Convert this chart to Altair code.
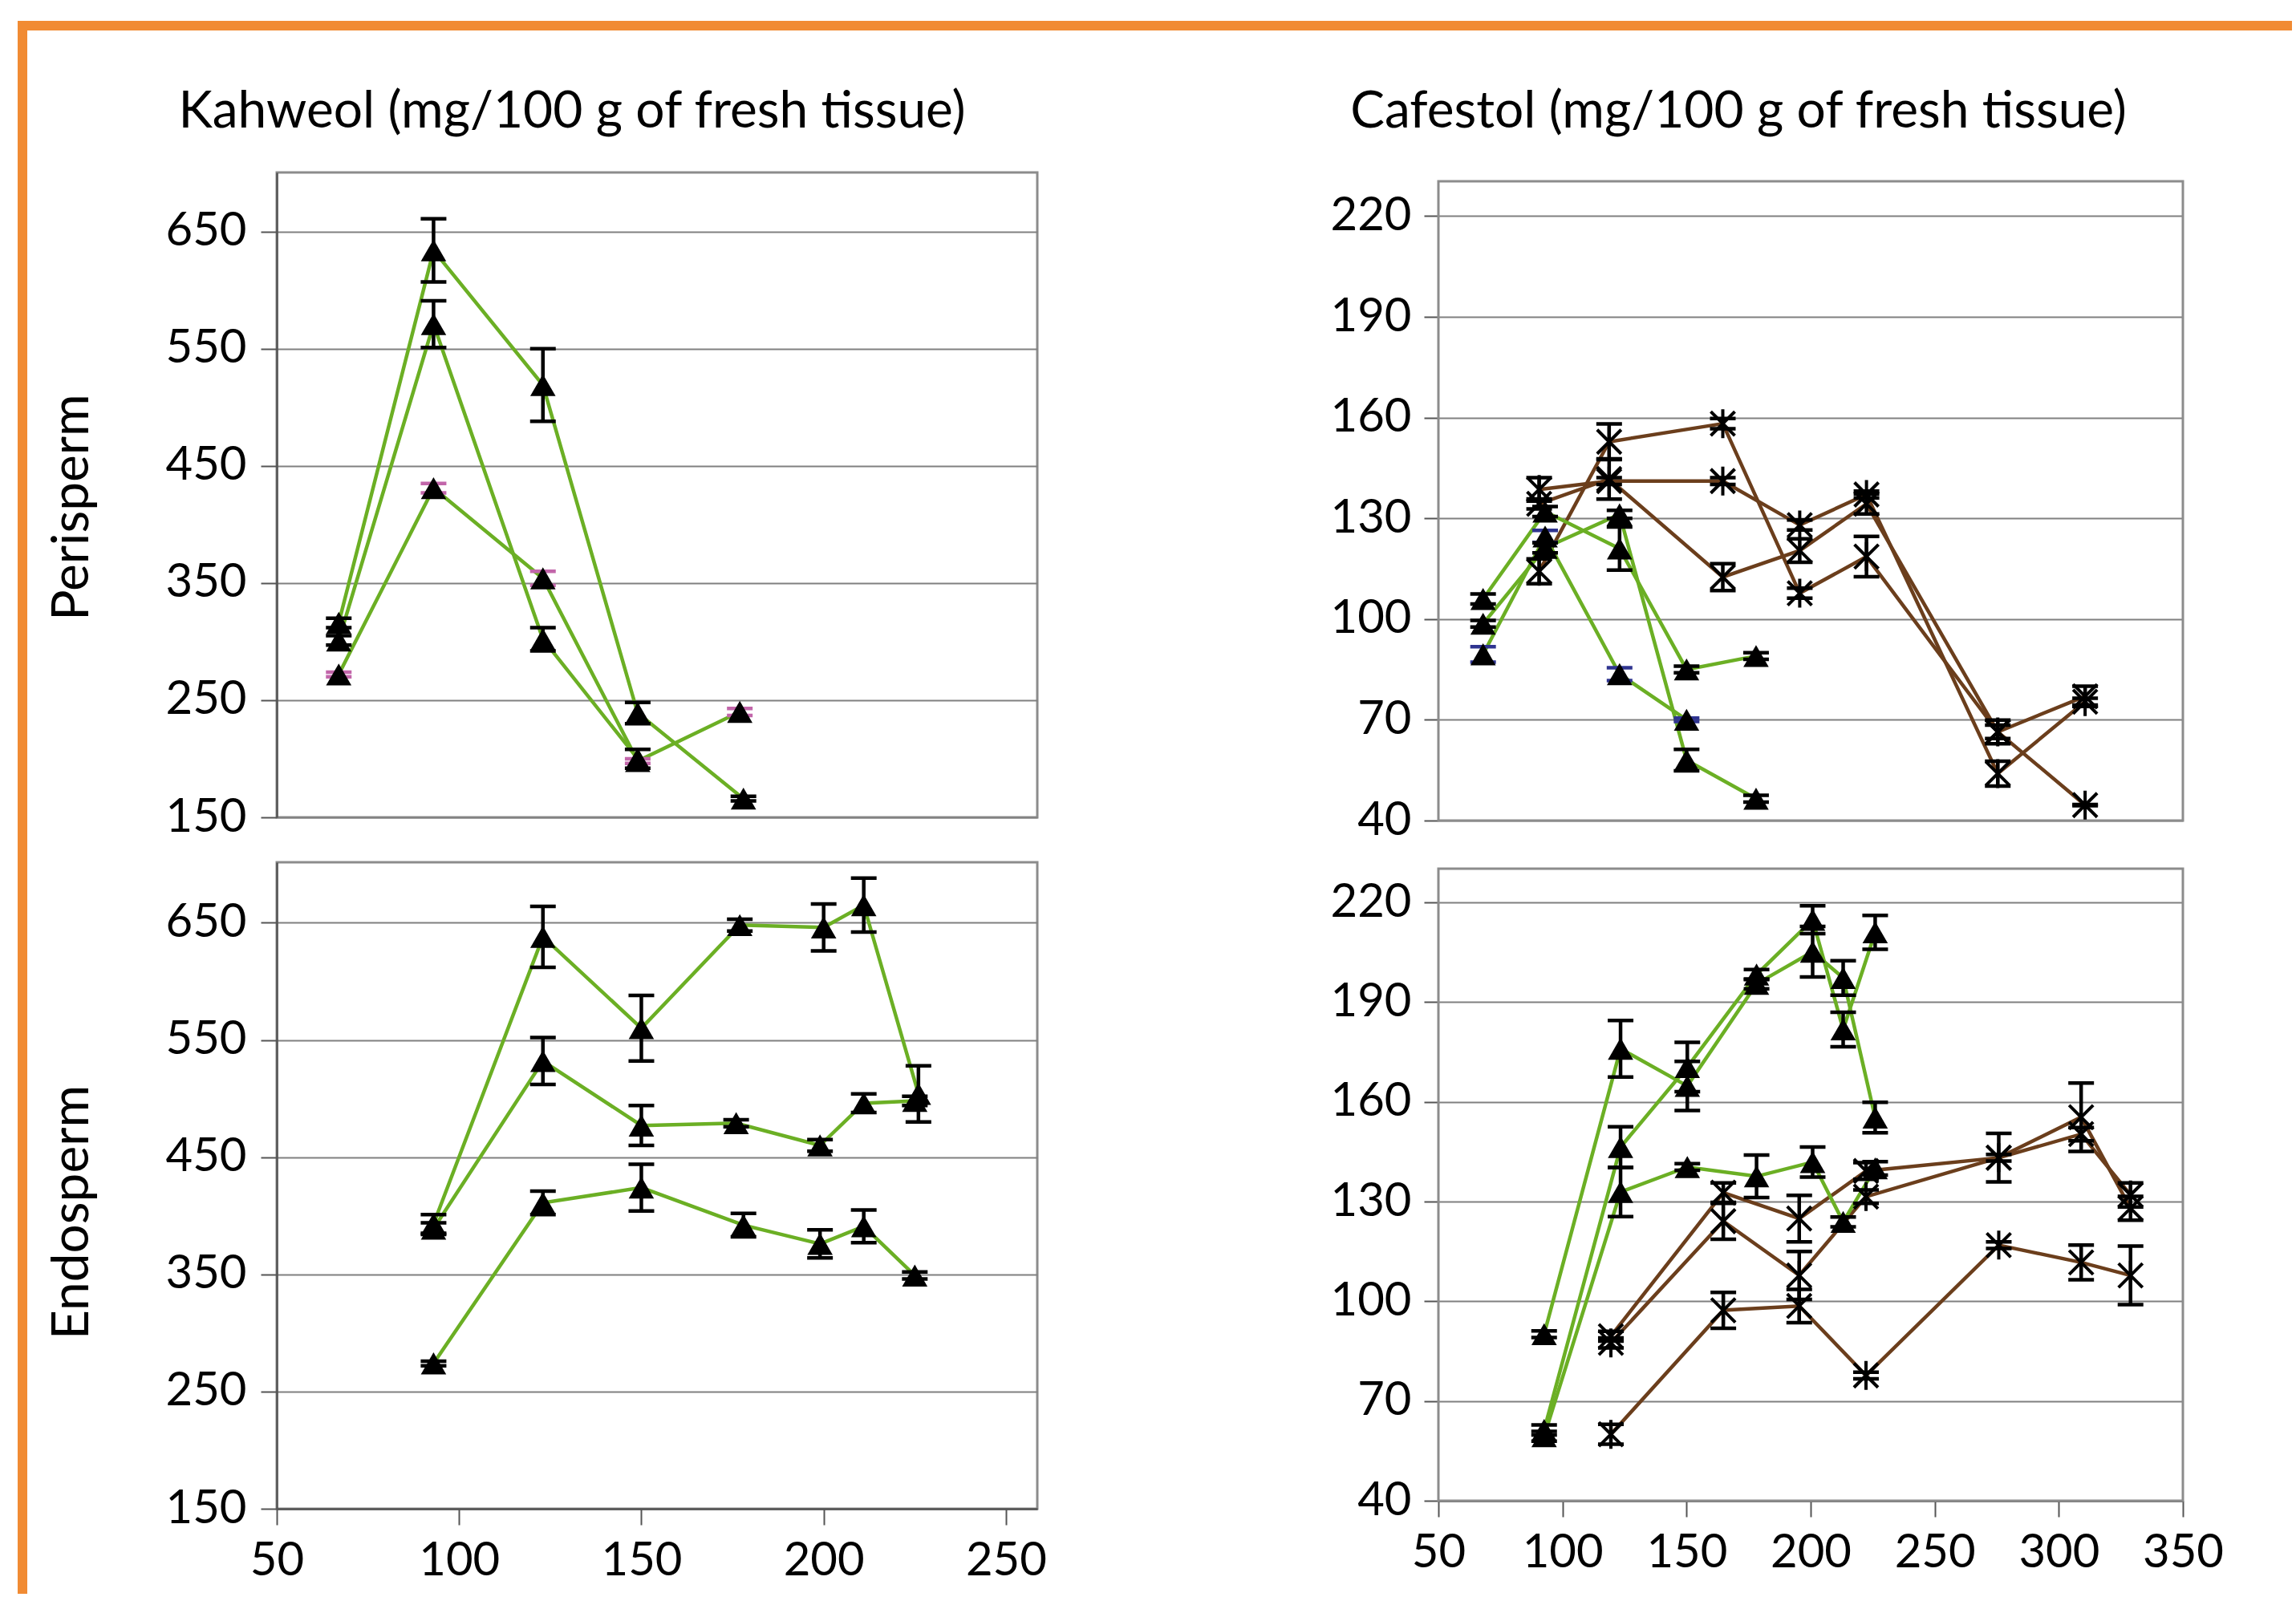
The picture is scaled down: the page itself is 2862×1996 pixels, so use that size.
import altair as alt
import pandas as pd

GREEN = "#6BAF24"
BROWN = "#6B3E1C"
PINK = "#C266AA"
NAVY = "#2F3490"
BLACK = "#000000"
ORANGE = "#F18B33"
FRAME = "#8c8c8c"

# ---------------- Kahweol, perisperm ----------------
KP_A_X = [67, 93, 123, 149, 178]
KP_A_Y = [316, 634, 519, 239, 166]
KP_A_E = [4, 27, 31, 9, 2]
KP_B_X = [67, 93, 123, 149]
KP_B_Y = [301, 571, 302, 200]
KP_B_E = [4, 20, 10, 8]
KP_C_X = [67, 93, 123, 149, 177]
KP_C_Y = [272, 431, 354, 198, 240]
KP_C_E = [2, 4, 6, 2, 3]

# ---------------- Kahweol, endosperm ----------------
KE_D_X = [93, 123, 150, 177, 200, 211, 226]
KE_D_Y = [393, 638, 560, 648, 646, 665, 504]
KE_D_E = [8, 26, 28, 5, 20, 23, 24]
KE_E_X = [93, 123, 150, 176, 199, 211, 225]
KE_E_Y = [389, 532, 477, 479, 460, 496, 498]
KE_E_E = [5, 20, 17, 3, 5, 8, 4]
KE_F_X = [93, 123, 150, 178, 199, 211, 225]
KE_F_Y = [274, 411, 424, 392, 376, 391, 349]
KE_F_E = [2, 10, 20, 10, 12, 14, 3]

# ---------------- Cafestol, perisperm ----------------
CP_G_X = [68, 93, 123, 150, 178]
CP_G_Y = [106, 132, 121, 85, 89]
CP_G_E = [1.5, 1.5, 6.4, 1, 1]
CP_H_X = [68, 93, 123, 150, 178]
CP_H_Y = [98.6, 121.2, 131.2, 58, 46.5]
CP_H_E = [1, 1.5, 1.2, 3.2, 1]
CP_I_X = [68, 93, 123, 150]
CP_I_Y = [89.5, 124.6, 83.6, 70]
CP_I_E = [2.3, 1.8, 1.9, 0.5]
CP_BR_X = [90.6, 118.8, 164.6, 195.6, 222.5, 275.4, 310.6]
CP_J_Y = [114.2, 152.8, 158.2, 107.7, 118.6, 66.4, 44.6]
CP_J_E = [3.7, 5.3, 1.5, 1.5, 6, 2, 0.2]
CP_K_Y = [138.6, 141.1, 141.1, 128, 137.1, 54.0, 75.4]
CP_K_E = [3.5, 1, 1, 1.5, 1, 3.7, 1]
CP_L_Y = [134.3, 141.7, 112.5, 120.4, 134.3, 66.4, 77]
CP_L_E = [1.5, 6, 4, 3.5, 3, 3.5, 3]

# ---------------- Cafestol, endosperm ----------------
CE_GR_X = [92.6, 123.4, 150.3, 178.2, 200.8, 213.1, 226.0]
CE_M_Y = [90.1, 176, 164.8, 195.5, 205.2, 197.3, 155.3]
CE_M_E = [1, 8.5, 7.4, 1.5, 7.6, 5.2, 4.6]
CE_N_Y = [61.3, 146.4, 170.5, 198.3, 214.8, 181.8, 211]
CE_N_E = [1.5, 6.1, 7.4, 1.5, 4.2, 5.2, 5.1]
CE_O_Y = [59.4, 132.9, 140.4, 137.6, 141.9, 123.9, 140]
CE_O_E = [1.5, 7.4, 1, 6.4, 4.5, 1.5, 2]
CE_BR_X = [119.5, 164.8, 195.4, 222.3, 275.8, 309, 328.9]
CE_P_Y = [89.5, 132.7, 124.9, 139.2, 143.2, 155.4, 128]
CE_P_E = [1.5, 2.9, 7, 2.5, 7.3, 10.3, 3.6]
CE_Q_Y = [87.5, 124.1, 107.8, 131.5, 143.2, 150.3, 132]
CE_Q_E = [1.5, 5.4, 7.2, 2, 1, 2, 3.6]
CE_R_Y = [60, 97.3, 98.6, 77.7, 116.9, 111.7, 107.8]
CE_R_E = [3, 5.4, 5, 1, 1, 5.2, 8.8]

# axis ticks
K_Y_TICKS = [150, 250, 350, 450, 550, 650]
C_Y_TICKS = [40, 70, 100, 130, 160, 190, 220]
K_X_TICKS = [50, 100, 150, 200, 250]
C_X_TICKS = [50, 100, 150, 200, 250, 300, 350]

XPATH = "M-1,-1L1,1M-1,1L1,-1"
STARPATH = "M-1,-1L1,1M-1,1L1,-1M0,-1.2L0,1.2"

LW = 4.5


def series(sid, xs, ys, es, lc, mk, ec=BLACK):
    return pd.DataFrame({
        "s": sid, "x": xs, "y": ys,
        "lo": [y - e for y, e in zip(ys, es)],
        "hi": [y + e for y, e in zip(ys, es)],
        "lc": lc, "ec": ec, "mk": mk,
    })


def panel(df, xdom, xticks, ydom, yticks, w, h, show_x, title=None, ytitle=None,
          ytitle_y=None, label_pad=18, tick_size=20, extra=None, pre=None,
          y_domain_line=True):
    yax_kw = dict(values=yticks, grid=True, gridColor="#808080", gridWidth=2,
                  tickColor="#555555", tickWidth=2, tickSize=tick_size,
                  domain=y_domain_line, domainColor="#555555", domainWidth=2.5,
                  labelFont="Lato", labelFontSize=58, labelColor="black",
                  labelPadding=label_pad, labelOverlap=False, labelFlush=False,
                  titleFont="Lato", titleFontSize=64, titleFontWeight="normal",
                  titleColor="black", titlePadding=84)
    yax_kw["title"] = ytitle if ytitle else None
    if ytitle_y is not None:
        yax_kw["titleY"] = ytitle_y
    yax = alt.Axis(**yax_kw)
    if show_x:
        xax = alt.Axis(values=xticks, format="d", grid=False, tickColor="#555555",
                       tickWidth=2, tickSize=20, domainColor="#555555", domainWidth=2.5,
                       labelFont="Lato", labelFontSize=58, labelColor="black",
                       labelPadding=16, labelOverlap=False, labelFlush=False, title=None)
    else:
        xax = None
    xs = alt.Scale(domain=xdom, nice=False, zero=False)
    ys = alt.Scale(domain=ydom, nice=False, zero=False)

    def X(f="x"):
        return alt.X(f + ":Q", scale=xs, axis=xax)

    def Y(f):
        return alt.Y(f + ":Q", scale=ys, axis=yax)

    base = alt.Chart(df)
    line = base.mark_line(strokeWidth=LW).encode(
        x=X(), y=Y("y"), detail="s:N", color=alt.Color("lc:N", scale=None))
    bar = base.mark_rule(strokeWidth=LW).encode(
        x=X(), y=Y("lo"), y2="hi:Q", color=alt.Color("ec:N", scale=None))
    cap_lo = base.mark_rule(strokeWidth=LW, xOffset=-16, x2Offset=16).encode(
        x=X(), x2="x:Q", y=Y("lo"), color=alt.Color("ec:N", scale=None))
    cap_hi = base.mark_rule(strokeWidth=LW, xOffset=-16, x2Offset=16).encode(
        x=X(), x2="x:Q", y=Y("hi"), color=alt.Color("ec:N", scale=None))
    tri = base.transform_filter(alt.datum.mk == "tri").mark_point(
        shape="triangle-up", filled=True, size=1000, color="black", opacity=1
    ).encode(x=X(), y=Y("y"))
    xm = base.transform_filter(alt.datum.mk == "x").mark_point(
        shape=XPATH, filled=False, size=900, color="black", strokeWidth=4, opacity=1
    ).encode(x=X(), y=Y("y"))
    st = base.transform_filter(alt.datum.mk == "star").mark_point(
        shape=STARPATH, filled=False, size=900, color="black", strokeWidth=4, opacity=1
    ).encode(x=X(), y=Y("y"))
    layers = [line, bar, cap_lo, cap_hi, tri, xm, st]
    if pre is not None:
        layers = pre + layers
    if extra is not None:
        layers = layers + extra
    props = dict(width=w, height=h)
    if title is not None:
        props["title"] = title
    return alt.layer(*layers).properties(**props)


kp = pd.concat([
    series("A", KP_A_X, KP_A_Y, KP_A_E, GREEN, "tri"),
    series("B", KP_B_X, KP_B_Y, KP_B_E, GREEN, "tri"),
    series("C", KP_C_X, KP_C_Y, KP_C_E, GREEN, "tri", PINK),
], ignore_index=True)
ke = pd.concat([
    series("D", KE_D_X, KE_D_Y, KE_D_E, GREEN, "tri"),
    series("E", KE_E_X, KE_E_Y, KE_E_E, GREEN, "tri"),
    series("F", KE_F_X, KE_F_Y, KE_F_E, GREEN, "tri"),
], ignore_index=True)
cp = pd.concat([
    series("J", CP_BR_X, CP_J_Y, CP_J_E, BROWN, "star"),
    series("K", CP_BR_X, CP_K_Y, CP_K_E, BROWN, "star"),
    series("L", CP_BR_X, CP_L_Y, CP_L_E, BROWN, "x"),
    series("G", CP_G_X, CP_G_Y, CP_G_E, GREEN, "tri"),
    series("H", CP_H_X, CP_H_Y, CP_H_E, GREEN, "tri"),
    series("I", CP_I_X, CP_I_Y, CP_I_E, GREEN, "tri", NAVY),
], ignore_index=True)
ce = pd.concat([
    series("P", CE_BR_X, CE_P_Y, CE_P_E, BROWN, "x"),
    series("Q", CE_BR_X, CE_Q_Y, CE_Q_E, BROWN, "star"),
    series("R", CE_BR_X, CE_R_Y, CE_R_E, BROWN, "star"),
    series("M", CE_GR_X, CE_M_Y, CE_M_E, GREEN, "tri"),
    series("N", CE_GR_X, CE_N_Y, CE_N_E, GREEN, "tri"),
    series("O", CE_GR_X, CE_O_Y, CE_O_E, GREEN, "tri"),
], ignore_index=True)

one = pd.DataFrame({"k": [0]})
border_top = alt.Chart(one).mark_rect(color=ORANGE).encode(
    x=alt.value(-323), x2=alt.value(2512), y=alt.value(-1049), y2=alt.value(-1037))
border_left = alt.Chart(one).mark_rect(color=ORANGE).encode(
    x=alt.value(-323), x2=alt.value(-311), y=alt.value(-1049), y2=alt.value(912))


def frame(w, h, top):
    return alt.Chart(one).mark_rect(fillOpacity=0, stroke=FRAME, strokeWidth=3).encode(
        x=alt.value(0), x2=alt.value(w), y=alt.value(top), y2=alt.value(h))


title_style = dict(font="Lato", fontSize=64, fontWeight="normal", color="black",
                   anchor="middle", baseline="alphabetic", offset=-8)

tl = panel(kp, [50, 258.6], K_X_TICKS, [150, 700.5], K_Y_TICKS, 948, 804, False,
           title=alt.TitleParams("Kahweol (mg/100 g of fresh tissue)", dx=-106, **title_style),
           ytitle="Perisperm", ytitle_y=417)
bl = panel(ke, [50, 258.6], K_X_TICKS, [150, 701.6], K_Y_TICKS, 948, 806, True,
           ytitle="Endosperm", ytitle_y=436, extra=[border_top, border_left])
tr = panel(cp, [50, 350], C_X_TICKS, [40, 233.0], C_Y_TICKS, 928, 808, False,
           title=alt.TitleParams("Cafestol (mg/100 g of fresh tissue)", dx=-90, **title_style),
           label_pad=16, tick_size=18, pre=[frame(928, 808, 11)], y_domain_line=False)
br = panel(ce, [50, 350], C_X_TICKS, [40, 232.1], C_Y_TICKS, 928, 796, True,
           label_pad=16, tick_size=18, pre=[frame(928, 796, 8)], y_domain_line=False)

tr = tr.properties(view=alt.ViewBackground(strokeOpacity=0))
br = br.properties(view=alt.ViewBackground(strokeOpacity=0))

chart = alt.concat(tl, tr, bl, br, columns=2, spacing={"row": 52, "column": 500},
                   bounds="flush").properties(
    padding={"left": 20, "top": 24, "right": 0, "bottom": 0},
    background="white",
).configure_view(stroke=FRAME, strokeWidth=3)

chart.save("out.html", embed_options={"renderer": "svg", "actions": False})
